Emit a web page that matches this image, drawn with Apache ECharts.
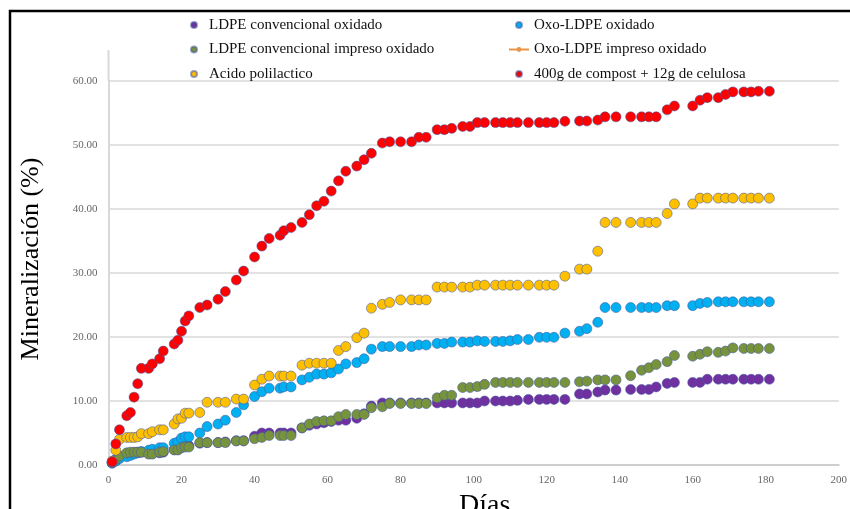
<!DOCTYPE html>
<html>
<head>
<meta charset="utf-8">
<script src="https://cdn.jsdelivr.net/npm/echarts@6/dist/echarts.min.js"></script>
<style>
  html, body { margin: 0; padding: 0; background: #fff; }
  #chart { width: 850px; height: 509px; }
</style>
</head>
<body>
<div id="chart"></div>
<script>
// Sampling days (shared by every series)
const days = [1,2,3,5,6,7,8,9,11,12,
  14,15,18,19,20,21,22,25,27,30,
  32,35,37,40,42,44,47,48,50,53,
  55,57,59,61,63,65,68,70,72,75,
  77,80,83,85,87,90,92,94,97,99,
  101,103,106,108,110,112,115,118,120,122,
  125,129,131,134,136,139,143,146,148,150,
  153,155,160,162,164,167,169,171,174,176,
  178,181];

// Mineralización (%) per material
const ldpeOxidado = [0.3,0.8,1.3,1.7,1.8,1.9,1.9,2.0,1.8,1.8,
  1.9,2.0,2.4,2.4,2.8,3.0,3.0,3.4,3.5,3.5,
  3.6,3.8,3.8,4.5,5.0,5.0,5.0,5.0,5.0,5.8,
  6.2,6.4,6.6,6.8,7.0,7.0,7.3,8.0,9.2,9.7,
  9.7,9.7,9.7,9.7,9.7,9.7,9.7,9.7,9.7,9.7,
  9.7,10.0,10.0,10.0,10.0,10.1,10.25,10.25,10.25,10.25,
  10.25,11.1,11.1,11.4,11.7,11.7,11.8,11.8,11.8,12.2,
  12.75,12.9,12.9,12.9,13.4,13.4,13.4,13.4,13.4,13.4,
  13.4,13.4];

const oxoOxidado = [0.3,0.6,1.0,1.3,1.5,1.7,2.0,2.1,2.3,2.45,
  2.7,2.7,3.4,3.6,4.2,4.4,4.4,5.0,6.0,6.4,
  7.0,8.2,9.4,10.7,11.45,12.0,12.0,12.2,12.2,13.3,
  13.7,14.2,14.2,14.4,15.0,15.8,16.0,16.6,18.1,18.5,
  18.5,18.5,18.5,18.75,18.75,19.0,19.0,19.2,19.2,19.2,
  19.4,19.3,19.3,19.3,19.4,19.6,19.6,19.95,19.95,19.95,
  20.6,20.9,21.3,22.3,24.6,24.6,24.6,24.6,24.6,24.6,
  24.9,24.9,24.9,25.25,25.4,25.5,25.5,25.5,25.5,25.5,
  25.5,25.5];

const ldpeImpreso = [0.4,0.9,1.4,1.9,2.0,2.0,2.0,2.0,1.7,1.7,
  2.0,2.1,2.35,2.35,2.7,2.8,2.8,3.5,3.5,3.5,
  3.5,3.75,3.75,4.1,4.3,4.6,4.6,4.6,4.6,5.8,
  6.4,6.8,6.9,6.9,7.55,7.9,7.9,7.9,8.95,9.1,
  9.6,9.6,9.6,9.6,9.6,10.5,10.9,10.9,12.1,12.1,
  12.25,12.6,12.9,12.9,12.9,12.9,12.9,12.9,12.9,12.9,
  12.9,13.0,13.1,13.3,13.3,13.3,13.95,14.8,15.2,15.7,
  16.15,17.1,17.0,17.3,17.7,17.6,17.8,18.3,18.2,18.2,
  18.2,18.2];

const oxoImpreso = [];

const acidoPolilactico = [0.6,2.3,4.0,4.3,4.3,4.3,4.4,4.9,4.9,5.2,
  5.5,5.5,6.4,7.2,7.3,8.1,8.1,8.2,9.8,9.8,
  9.8,10.3,10.3,12.5,13.4,13.9,13.9,13.9,13.9,15.6,
  15.9,15.9,15.9,15.9,17.9,18.5,19.9,20.6,24.5,25.1,
  25.4,25.8,25.8,25.8,25.8,27.8,27.8,27.8,27.8,27.8,
  28.1,28.1,28.1,28.1,28.1,28.1,28.1,28.1,28.1,28.1,
  29.5,30.6,30.6,33.4,37.9,37.9,37.9,37.9,37.9,37.9,
  39.3,40.8,40.8,41.7,41.7,41.7,41.7,41.7,41.7,41.7,
  41.7,41.7];

const compostCelulosa = [0.5,3.3,5.5,7.7,8.2,10.6,12.7,15.1,15.1,15.8,
  16.6,17.8,18.9,19.5,20.9,22.5,23.3,24.6,25.0,25.9,
  27.1,28.9,30.3,32.5,34.2,35.4,35.9,36.6,37.1,37.9,
  39.1,40.5,41.2,42.8,44.4,45.9,46.7,47.7,48.7,50.3,
  50.5,50.5,50.5,51.2,51.2,52.4,52.4,52.6,52.9,52.9,
  53.5,53.5,53.5,53.5,53.5,53.5,53.5,53.5,53.5,53.5,
  53.7,53.75,53.75,53.9,54.4,54.4,54.4,54.4,54.4,54.4,
  55.5,56.1,56.1,57.0,57.4,57.4,57.9,58.3,58.3,58.3,
  58.4,58.4];

const names = [
  'LDPE convencional oxidado',
  'Oxo-LDPE oxidado',
  'LDPE convencional impreso oxidado',
  'Oxo-LDPE impreso oxidado',
  'Acido polilactico',
  '400g de compost + 12g de celulosa'
];

const xTicks = { min: 0, max: 200, step: 20 };
const yTicks = { min: 0, max: 60, step: 10 };

const pairs = vals => vals.map((v, i) => [days[i], v]);

const serif = 'Liberation Serif, Times New Roman, serif';
const edge = 'rgba(70,88,160,0.55)';

function dots(name, vals, color) {
  return {
    name, type: 'scatter', data: pairs(vals),
    symbol: 'circle', symbolSize: 10,
    itemStyle: { color, borderColor: edge, borderWidth: 1, opacity: 1 },
    emphasis: { disabled: true }
  };
}

const chart = echarts.init(document.getElementById('chart'), null, { renderer: 'canvas' });

const legendText = { fontFamily: serif, fontSize: 15, color: '#111', lineHeight: 16 };

chart.setOption({
  animation: false,
  backgroundColor: '#fff',
  grid: { left: 108.5, right: 11, top: 81, bottom: 44, containLabel: false },
  legend: [
    {
      data: [names[0], names[2], names[4]],
      orient: 'vertical', left: 185, top: 12,
      itemWidth: 20, itemHeight: 6, itemGap: 8.5,
      textStyle: legendText, selectedMode: false
    },
    {
      data: [names[1], names[3], names[5]],
      orient: 'vertical', left: 503, top: 12,
      itemWidth: 20, itemHeight: 6, itemGap: 8.5,
      textStyle: legendText, selectedMode: false
    }
  ],
  xAxis: {
    type: 'value', min: xTicks.min, max: xTicks.max, interval: xTicks.step,
    axisLine: { show: true, lineStyle: { color: '#cfcfcf', width: 2 } },
    axisTick: { show: false },
    splitLine: { show: false },
    axisLabel: { color: '#666', fontFamily: serif, fontSize: 11, margin: 10 }
  },
  yAxis: {
    type: 'value', min: yTicks.min, max: yTicks.max, interval: yTicks.step,
    axisLine: { show: true, lineStyle: { color: '#d9d9d9', width: 2 } },
    axisTick: { show: false },
    splitLine: { show: true, lineStyle: { color: '#d9d9d9', width: 1.5 } },
    axisLabel: {
      color: '#666', fontFamily: serif, fontSize: 11, margin: 11,
      formatter: v => v.toFixed(2)
    }
  },
  series: [
    dots(names[0], ldpeOxidado, '#7030A0'),
    dots(names[1], oxoOxidado, '#00B0F0'),
    dots(names[2], ldpeImpreso, '#77933C'),
    {
      name: names[3], type: 'line', data: pairs(oxoImpreso),
      symbol: 'circle', symbolSize: 6,
      lineStyle: { color: '#E8954A', width: 2.5 },
      itemStyle: { color: '#E8954A' }
    },
    dots(names[4], acidoPolilactico, '#FFC000'),
    dots(names[5], compostCelulosa, '#FF0000')
  ],
  graphic: [
    // frame around the figure
    { type: 'rect', shape: { x: 10, y: 11, width: 860, height: 520 },
      style: { fill: null, stroke: '#000', lineWidth: 2.5 }, silent: true, z: 100 },
    // vertical axis line continues a little above the last gridline
    { type: 'line', shape: { x1: 108.5, y1: 50, x2: 108.5, y2: 81 },
      style: { stroke: '#d9d9d9', lineWidth: 2 }, silent: true },
    { type: 'text', left: 487 - 28, top: 492,
      style: { text: 'Días', font: '28px ' + serif, fill: '#000' }, silent: true },
    { type: 'text', x: 31, y: 259, rotation: Math.PI / 2,
      style: { text: 'Mineralización (%)', font: '26px ' + serif, fill: '#000',
               align: 'center', verticalAlign: 'middle' }, silent: true }
  ]
});
</script>
</body>
</html>
